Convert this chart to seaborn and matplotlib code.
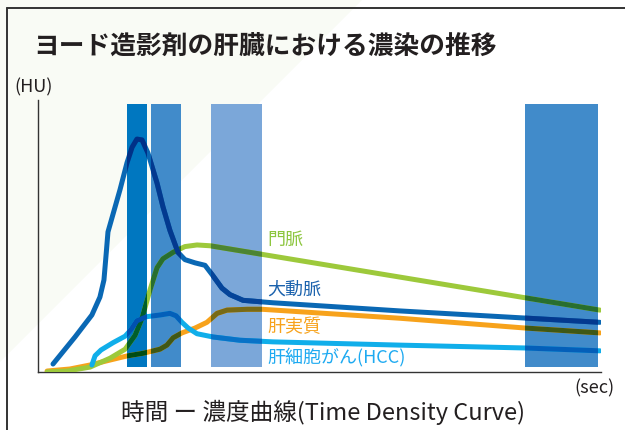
import matplotlib
matplotlib.use("Agg")
import matplotlib.pyplot as plt
from matplotlib.patches import Polygon
from matplotlib.lines import Line2D
import matplotlib.colors as mcolors
import numpy as np
import pandas as pd
import seaborn as sns

# --- time-density curves (time in sec, enhancement in HU) ---
aorta_t = [5.6, 13.8, 20.1, 23.1, 24.6, 25.4, 26.1, 28.0, 30.6, 33.2, 35.1, 36.9, 38.8,
           41.0, 44.4, 46.6, 49.2, 52.2, 54.8, 58.6, 62.3, 65.3, 68.6, 71.6, 76.5, 87.7,
           135.0, 172.3, 209.6]
aorta_hu = [9.8, 43, 70, 92, 113, 144, 172, 194, 224, 257, 276, 286, 285,
            269, 232, 203, 174, 147, 138, 134, 131, 118, 103, 95, 88, 85,
            75, 68, 61]

portal_t = [3.4, 10.8, 19.4, 26.9, 32.5, 36.2, 38.8, 41.8, 44.4, 46.6, 50.4, 54.8,
            59.3, 64.2, 209.6]
portal_hu = [0, 1.2, 6, 17, 28, 45, 66, 101, 128, 139, 147, 154,
             156, 155, 76]

liver_t = [3.4, 11.9, 19.4, 26.9, 33.2, 39.2, 45.5, 48.1, 50.4, 53.7, 58.6, 63.0,
           66.8, 70.5, 78.0, 83.6, 135.0, 181.7, 209.6]
liver_hu = [1.2, 3.7, 8.6, 14.7, 19.7, 23, 28, 33, 42, 48, 54, 61,
            72, 76, 77, 77, 66, 54, 48]

hcc_t = [20.1, 21.3, 23.5, 28.0, 32.5, 34.7, 36.9, 40.7, 45.5, 49.2, 51.5, 53.7,
         56.0, 59.3, 65.3, 75.3, 87.7, 135.0, 181.7, 209.6]
hcc_hu = [8.6, 20, 27, 36, 44, 52, 63, 68, 70, 72, 69, 61,
          54, 47, 43, 39, 37, 33, 29.5, 26]

series_names = ["門脈", "大動脈", "肝実質", "肝細胞がん(HCC)"]

# --- imaging phases (start / end in sec) ---
phase_start = [33.2, 42.2, 64.6, 181.7]
phase_end = [40.7, 53.4, 83.6, 208.9]
phase_colors = ["#0077c0", "#418bca", "#7ba7d9", "#418bca"]

# --- texts ---
title_text = "ヨード造影剤の肝臓における濃染の推移"
xlabel_text = "時間 ー 濃度曲線(Time Density Curve)"
y_unit = "(HU)"
x_unit = "(sec)"

sns.set_style("white")
plt.rcParams["font.family"] = ["Noto Sans CJK JP", "DejaVu Sans"]

W, H = 625, 430
fig = plt.figure(figsize=(W / 100, H / 100), dpi=100)
fig.patch.set_facecolor("white")

# soft tinted corner of the panel
fig.patches.append(Polygon([(0, 1), (362 / W, 1), (0, 1 - 362 / H)], closed=True,
                           transform=fig.transFigure, facecolor="#f9fbf5",
                           edgecolor="none", zorder=-10))
# panel frame
fig.add_artist(Line2D([7 / W, 7 / W], [0, 1 - 8 / H], color="#333333", lw=1.4))
fig.add_artist(Line2D([7 / W, 1], [1 - 8 / H, 1 - 8 / H], color="#333333", lw=1.4))

ax = fig.add_axes([38 / W, 58 / H, (601 - 38) / W, (372 - 100) / H])
ax.set_facecolor("none")
ax.set_xlim(0, 210)
ax.set_ylim(0, 334)

bar_bottom, bar_top = 6, 329
bars = ax.bar(phase_start, [bar_top - bar_bottom] * len(phase_start),
              width=np.array(phase_end) - np.array(phase_start),
              bottom=bar_bottom, align="edge", color=phase_colors,
              linewidth=0, zorder=1)

curves = [
    (liver_t, liver_hu, "#f7a21b"),
    (portal_t, portal_hu, "#9dc93b"),
    (hcc_t, hcc_hu, "#10aeea"),
    (aorta_t, aorta_hu, "#0a68b4"),
]

lw = 3.6
for t, hu, col in curves:
    df = pd.DataFrame({"t": t, "hu": hu})
    sns.lineplot(data=df, x="t", y="hu", ax=ax, color=col, lw=lw, sort=False,
                 estimator=None, zorder=3)

# darker, multiplied look where a curve crosses a phase band
for bar, bcol in zip(bars, phase_colors):
    b = np.array(mcolors.to_rgb(bcol))
    for t, hu, col in curves:
        c = np.array(mcolors.to_rgb(col)) * b
        ln, = ax.plot(t, hu, color=c, lw=lw, zorder=4, solid_capstyle="butt")
        ln.set_clip_path(bar)

for ln in ax.get_lines():
    ln.set_solid_joinstyle("round")

# axes styling
sns.despine(ax=ax)
for s in ("left", "bottom"):
    ax.spines[s].set_color("#333333")
    ax.spines[s].set_linewidth(1.0)
ax.set_xticks(np.arange(10, 211, 10))
ax.set_yticks(np.arange(50, 301, 50))
ax.set_xticklabels([])
ax.set_yticklabels([])
ax.tick_params(direction="in", length=4.5, width=1, color="#333333")
ax.set_xlabel("")
ax.set_ylabel("")

# curve labels
label_y = [162, 101, 55, 19]
label_colors = ["#8dc63f", "#1b62ad", "#f7a21b", "#1eaaf1"]
for name, y, c in zip(series_names, label_y, label_colors):
    ax.text(85.4, y, name, color=c, fontsize=13, ha="left", va="center", zorder=5)

fig.text(33 / W, 1 - 47 / H, title_text, fontsize=18.5, color="#231f20",
         ha="left", va="center", fontweight="bold")
fig.text(14 / W, 1 - 87 / H, y_unit, fontsize=13, color="#231f20",
         ha="left", va="center")
fig.text(615 / W, 1 - 388 / H, x_unit, fontsize=13, color="#231f20",
         ha="right", va="center")
fig.text(323 / W, 1 - 412 / H, xlabel_text, fontsize=17, color="#231f20",
         ha="center", va="center")

fig.savefig("out.png", dpi=100)
